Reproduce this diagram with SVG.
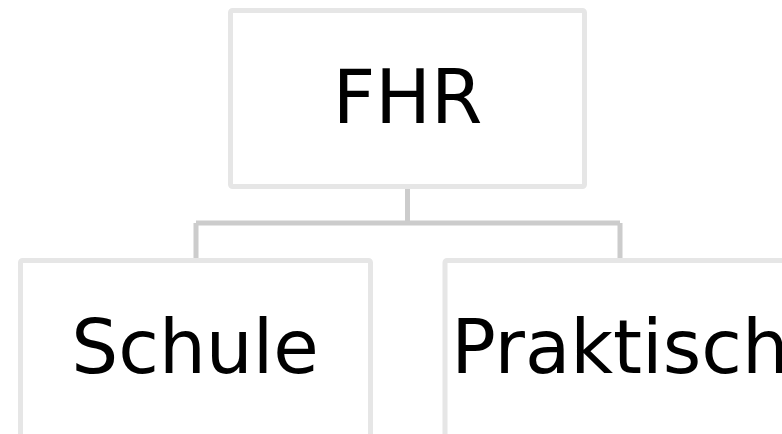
<svg xmlns="http://www.w3.org/2000/svg" width="782" height="434" viewBox="0 0 782 434">
<style>
.box{fill:#ffffff;stroke:#e6e6e6;stroke-width:5}
.lbl{font-family:"DejaVu Sans",Verdana,sans-serif;font-size:74px;fill:#000000;text-anchor:middle}
.con{fill:none;stroke:#cccccc;stroke-width:5}
</style>
<rect width="782" height="434" fill="#ffffff"/>
<g id="connectors">
<path class="con" d="M407.5,188 V223 M196,223 H620 M196,223 V258 M620,223 V258"/>
</g>
<g id="fhr">
<rect class="box" x="230.5" y="10.5" width="354" height="176" rx="2"/>
<text class="lbl" x="407.5" y="123">FHR</text>
</g>
<g id="schule">
<rect class="box" x="20.5" y="260.5" width="350" height="180" rx="2"/>
<text class="lbl" x="195" y="373">Schule</text>
</g>
<g id="praktisch">
<rect class="box" x="445" y="260.5" width="352" height="180" rx="2"/>
<text class="lbl" x="620" y="373">Praktisch</text>
</g>
</svg>
